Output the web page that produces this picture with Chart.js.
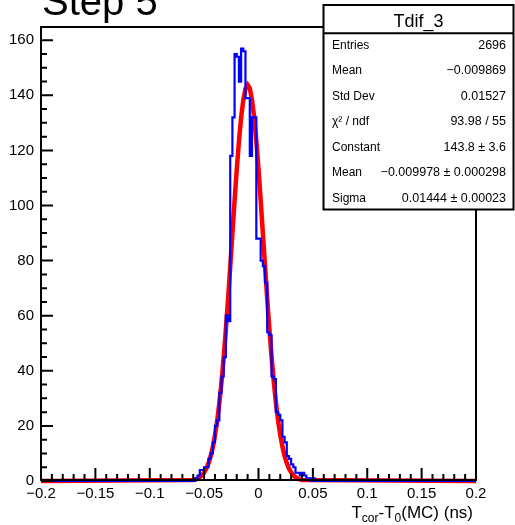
<!DOCTYPE html>
<html>
<head>
<meta charset="utf-8">
<script src="https://cdn.jsdelivr.net/npm/chart.js@4.4.0/dist/chart.umd.min.js"></script>
<style>
  html, body { margin: 0; padding: 0; background: #fff; }
  canvas { display: block; }
</style>
</head>
<body>
<canvas id="chart" width="515" height="525"></canvas>
<script>
// ─── Data ──────────────────────────────────

// Tdif_3 histogram, 0.002 wide bins, first bin starts at -0.060
const binStart = -0.06;
const binWidth = 0.002;
const counts = [
    0, 1, 2, 4, 4, 5, 5, 8, 10, 14,                    // -0.060 .. -0.042
    20, 22, 32, 38, 45, 60, 58, 118, 132, 155,         // -0.040 .. -0.022
    154, 145, 157, 156, 139, 139, 118, 132, 132, 88,   // -0.020 .. -0.002
    88, 80, 78, 72, 54, 53, 38, 37, 25, 24,            //  0.000 ..  0.018
    22, 16, 14, 9, 8, 6, 5, 3, 3, 2,                   //  0.020 ..  0.038
    3, 2, 1, 1, 0, 1                                   //  0.040 ..  0.050
];

// gaus fit curve
const fitX = [
    -0.2,
    -0.060, -0.058, -0.056, -0.054, -0.052, -0.050, -0.048, -0.046, -0.044, -0.042,
    -0.040, -0.038, -0.036, -0.034, -0.032, -0.030, -0.028, -0.026, -0.024, -0.022,
    -0.020, -0.018, -0.016, -0.014, -0.012, -0.010, -0.008, -0.006, -0.004, -0.002,
     0.000,  0.002,  0.004,  0.006,  0.008,  0.010,  0.012,  0.014,  0.016,  0.018,
     0.020,  0.022,  0.024,  0.026,  0.028,  0.030,  0.032,  0.034,  0.036,  0.038,
     0.040,
     0.2
];
const fitY = [
    0,
    0.4, 0.6, 0.9, 1.4, 2.1, 3.1, 4.5, 6.4, 9.0, 12.3,
    16.6, 21.9, 28.4, 36.0, 45.0, 55.0, 66.0, 77.7, 89.8, 101.7,
    113.0, 123.2, 131.8, 138.3, 142.4, 143.8, 142.5, 138.4, 132.0, 123.4,
    113.3, 101.9, 90.0, 78.0, 66.2, 55.2, 45.2, 36.2, 28.5, 22.0,
    16.7, 12.4, 9.0, 6.5, 4.5, 3.1, 2.1, 1.4, 0.9, 0.6,
    0.4,
    0
];

const xTicks      = [-0.2, -0.15, -0.1, -0.05, 0, 0.05, 0.1, 0.15, 0.2];
const xTickLabels = ['\u22120.2', '\u22120.15', '\u22120.1', '\u22120.05', '0', '0.05', '0.1', '0.15', '0.2'];
const yTicks      = [0, 20, 40, 60, 80, 100, 120, 140, 160];
const yTickLabels = ['0', '20', '40', '60', '80', '100', '120', '140', '160'];

const statTitle  = 'Tdif_3';
const statLabels = ['Entries', 'Mean', 'Std Dev', '\u03c7\u00b2 / ndf', 'Constant', 'Mean', 'Sigma'];
const statValues = ['2696', '\u22120.009869', '0.01527', '93.98 / 55', '143.8 \u00b1 3.6', '\u22120.009978 \u00b1 0.000298', '0.01444 \u00b1 0.00023'];

// ─── Build datasets ────────────────────────

const histPoints = [{ x: -0.2, y: 0 }];
counts.forEach((c, i) => histPoints.push({ x: binStart + i * binWidth, y: c }));
histPoints.push({ x: binStart + counts.length * binWidth, y: 0 });
histPoints.push({ x: 0.2, y: 0 });

const fitPoints = fitX.map((x, i) => ({ x, y: fitY[i] }));

const FONT = '"Liberation Sans", Arial, Helvetica, sans-serif';

// ─── ROOT-style frame, axes and stat box ───

const rootDecor = {
    id: 'rootDecor',
    afterDatasetsDraw(chart) {
        const { ctx, chartArea: a, scales: { x, y } } = chart;
        const bottom = a.bottom - 1;
        ctx.save();
        ctx.strokeStyle = '#000';
        ctx.fillStyle = '#000';
        ctx.lineWidth = 2;
        ctx.strokeRect(a.left, a.top, a.right - a.left, bottom - a.top);

        // ticks
        ctx.beginPath();
        for (let v = 0; v <= 164; v += 5) {
            const py = y.getPixelForValue(v);
            const len = v % 20 === 0 ? 12 : 6;
            ctx.moveTo(a.left, py);
            ctx.lineTo(a.left + len, py);
        }
        for (let k = -20; k <= 20; k++) {
            const px = x.getPixelForValue(k * 0.01);
            const len = k % 5 === 0 ? 12 : 6;
            ctx.moveTo(px, bottom);
            ctx.lineTo(px, bottom - len);
        }
        ctx.stroke();

        // tick labels
        ctx.font = '15px ' + FONT;
        ctx.textAlign = 'right';
        ctx.textBaseline = 'middle';
        yTicks.forEach((v, i) => ctx.fillText(yTickLabels[i], 34, y.getPixelForValue(v)));
        ctx.textAlign = 'center';
        ctx.textBaseline = 'alphabetic';
        xTicks.forEach((v, i) => ctx.fillText(xTickLabels[i], x.getPixelForValue(v), 498));

        // axis title with subscripts
        const parts = [
            { t: 'T' }, { t: 'cor', sub: true }, { t: '-T' }, { t: '0', sub: true }, { t: '(MC) (ns)' }
        ];
        const main = '17px ' + FONT, small = '12px ' + FONT;
        const widths = parts.map(p => { ctx.font = p.sub ? small : main; return ctx.measureText(p.t).width; });
        let tx = 473 - widths.reduce((s, w) => s + w, 0);
        ctx.textAlign = 'left';
        parts.forEach((p, i) => {
            ctx.font = p.sub ? small : main;
            ctx.fillText(p.t, tx, 518 + (p.sub ? 4 : 0));
            tx += widths[i];
        });

        // title
        ctx.font = '40px ' + FONT;
        ctx.fillText('Step 5', 42, 15);
        ctx.restore();
    },
    afterDraw(chart) {
        const { ctx } = chart;
        const bx = 323.5, by = 5, bw = 190, bh = 204.5;
        ctx.save();
        ctx.fillStyle = '#fff';
        ctx.fillRect(bx, by, bw, bh);
        ctx.strokeStyle = '#000';
        ctx.lineWidth = 2;
        ctx.strokeRect(bx, by, bw, bh);
        ctx.beginPath();
        ctx.moveTo(bx, 33.3);
        ctx.lineTo(bx + bw, 33.3);
        ctx.stroke();

        ctx.fillStyle = '#000';
        ctx.font = '18px ' + FONT;
        ctx.textAlign = 'center';
        ctx.textBaseline = 'alphabetic';
        ctx.fillText(statTitle, bx + bw / 2, 26.5);

        ctx.textBaseline = 'middle';
        statLabels.forEach((lab, i) => {
            const ry = 45.5 + i * 25.5;
            ctx.font = '12px ' + FONT;
            ctx.textAlign = 'left';
            ctx.fillText(lab, 332, ry);
            ctx.font = '12.5px ' + FONT;
            ctx.textAlign = 'right';
            ctx.fillText(statValues[i], 506, ry);
        });
        ctx.restore();
    }
};

// ─── Chart ─────────────────────────────────

new Chart(document.getElementById('chart').getContext('2d'), {
    type: 'line',
    data: {
        datasets: [
            {
                label: 'Tdif_3',
                data: histPoints,
                stepped: 'before',
                borderColor: '#0000ff',
                borderWidth: 2.2,
                pointRadius: 0,
                fill: false,
                clip: false
            },
            {
                label: 'gaus',
                data: fitPoints,
                borderColor: '#ff0000',
                borderWidth: 4.5,
                pointRadius: 0,
                tension: 0,
                fill: false,
                clip: false
            }
        ]
    },
    options: {
        responsive: false,
        animation: false,
        layout: { padding: { left: 41, top: 27, right: 39, bottom: 44 } },
        plugins: { legend: { display: false }, tooltip: { enabled: false } },
        scales: {
            x: { type: 'linear', min: -0.2, max: 0.2, display: false },
            y: { min: 0, max: 164.8, display: false }
        }
    },
    plugins: [rootDecor]
});
</script>
</body>
</html>
